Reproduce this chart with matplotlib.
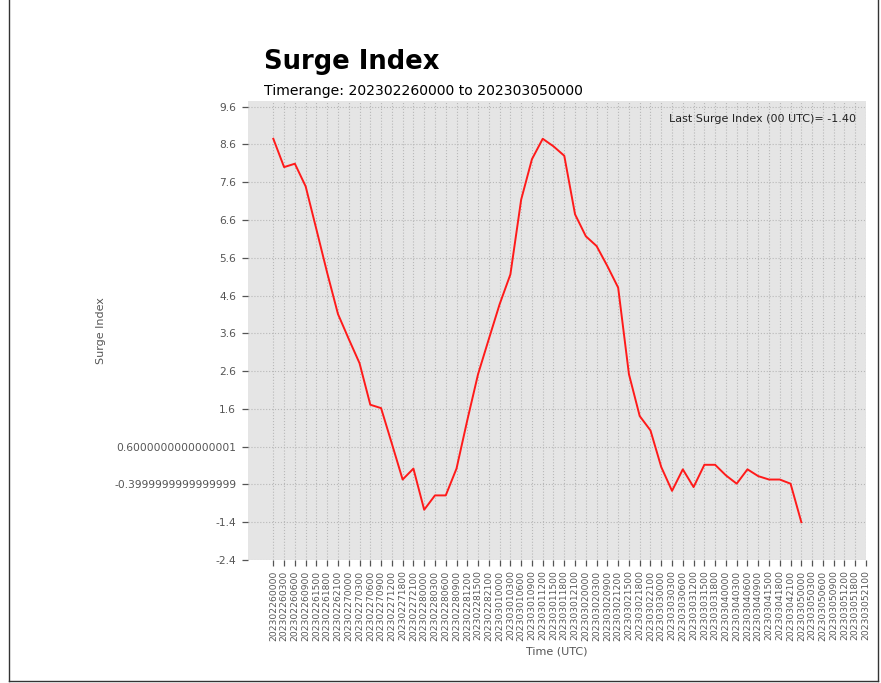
import numpy as np
import matplotlib
matplotlib.use("Agg")
import matplotlib.pyplot as plt
from matplotlib.lines import Line2D

# ---- data ----
time_labels = [
    "202302260000", "202302260300", "202302260600", "202302260900", "202302261500",
    "202302261800", "202302262100", "202302270000", "202302270300", "202302270600",
    "202302270900", "202302271200", "202302271800", "202302272100", "202302280000",
    "202302280300", "202302280600", "202302280900", "202302281200", "202302281500",
    "202302282100", "202303010000", "202303010300", "202303010600", "202303010900",
    "202303011200", "202303011500", "202303011800", "202303012100", "202303020000",
    "202303020300", "202303020900", "202303021200", "202303021500", "202303021800",
    "202303022100", "202303030000", "202303030300", "202303030600", "202303031200",
    "202303031500", "202303031800", "202303040000", "202303040300", "202303040600",
    "202303040900", "202303041500", "202303041800", "202303042100", "202303050000",
    "202303050300", "202303050600", "202303050900", "202303051200", "202303051800",
    "202303052100",
]

surge_values = [
    8.75, 8.00, 8.09, 7.49, 6.35, 5.20, 4.11, 3.45, 2.81, 1.71,
    1.62, 0.68, -0.27, 0.02, -1.07, -0.69, -0.69, 0.02, 1.30, 2.52,
    3.45, 4.37, 5.16, 7.14, 8.21, 8.75, 8.55, 8.30, 6.75, 6.17,
    5.91, 5.38, 4.81, 2.52, 1.41, 1.03, 0.06, -0.57, 0.00, -0.47,
    0.12, 0.12, -0.16, -0.38, 0.00, -0.18, -0.27, -0.27, -0.38, -1.40,
]

ytick_labels = [
    "-2.4", "-1.4", "-0.3999999999999999", "0.6000000000000001", "1.6", "2.6",
    "3.6", "4.6", "5.6", "6.6", "7.6", "8.6", "9.6",
]

title_text = "Surge Index"
subtitle_text = "Timerange: 202302260000 to 202303050000"

# ---- figure ----
W, H = 881, 683
fig = plt.figure(figsize=(W / 100, H / 100), dpi=100)
fig.patch.set_facecolor("white")

ax_left, ax_right, ax_top, ax_bottom = 248, 866, 101, 560
ax = fig.add_axes([ax_left / W, 1 - ax_bottom / H,
                   (ax_right - ax_left) / W, (ax_bottom - ax_top) / H])
ax.set_facecolor("#E5E5E5")
for s in ax.spines.values():
    s.set_visible(False)

x = np.arange(len(time_labels))
ax.plot(x[:len(surge_values)], surge_values, color="#ff1a1a", lw=1.4, zorder=3)

ymin = min(surge_values) - 1
ymax = max(surge_values) + 1
yticks = np.arange(ymin, ymax, 1.0)
ax.set_ylim(ymin, ymax)
ax.set_yticks(yticks)
ax.set_yticklabels(ytick_labels, fontsize=7.7, color="#555555")

ax.set_xticks(x)
ax.set_xticklabels(time_labels, rotation=90, fontsize=6.6, color="#666666")
ax.set_xlim(-2.35, len(time_labels) - 1)

ax.grid(True, linestyle=":", color="#b8b8b8", lw=0.8)
ax.set_axisbelow(True)
ax.tick_params(axis="both", colors="#555555", length=4.5, width=0.9)
ax.tick_params(axis="x", pad=3)
ax.tick_params(axis="y", pad=4)

ax.set_ylabel("Surge Index", fontsize=8, color="#555555")
ax.yaxis.set_label_coords((101 - ax_left) / (ax_right - ax_left), 0.5)
ax.yaxis.label.set_verticalalignment("center")
ax.set_xlabel("Time (UTC)", fontsize=8, color="#555555")
ax.xaxis.set_label_coords(0.5, (ax_bottom - 651) / (ax_bottom - ax_top))
ax.xaxis.label.set_verticalalignment("center")

ax.text((856 - ax_left) / (ax_right - ax_left), (ax_bottom - 122.5) / (ax_bottom - ax_top),
        f"Last Surge Index (00 UTC)= {surge_values[-1]:.2f}",
        transform=ax.transAxes, ha="right", va="baseline", fontsize=8, color="#222222")

fig.text(264 / W, 1 - 69 / H, title_text, fontsize=18.6, fontweight="bold",
         ha="left", va="baseline", color="black")
fig.text(264 / W, 1 - 95 / H, subtitle_text, fontsize=10.1,
         ha="left", va="baseline", color="black")

# frame lines of the screenshot
for (x0, y0, x1, y1) in [(8.5, 0, 8.5, 681), (877.5, 0, 877.5, 681), (8.5, 681, 877.5, 681)]:
    fig.add_artist(Line2D([x0 / W, x1 / W], [1 - y0 / H, 1 - y1 / H],
                          transform=fig.transFigure, color="#333333", lw=1.0))

fig.savefig("out.png", dpi=100, facecolor="white")
